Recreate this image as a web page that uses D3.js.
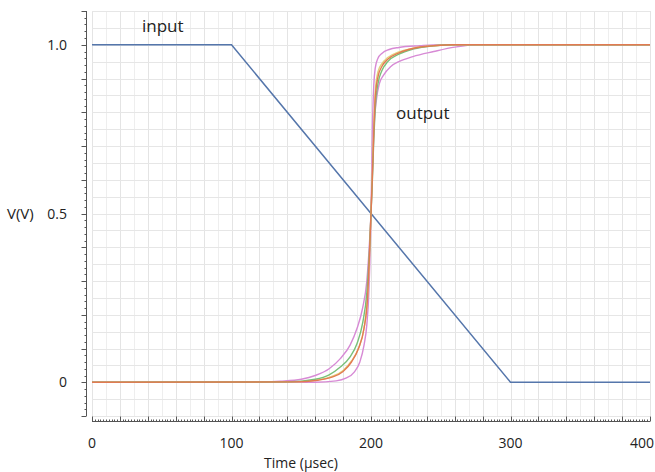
<!DOCTYPE html>
<html>
<head>
<meta charset="utf-8">
<script src="https://cdn.jsdelivr.net/npm/d3@7"></script>
<style>
  body { margin: 0; background: #fff; }
  text { font-family: "Open Sans", "DejaVu Sans", sans-serif; fill: #222; }
</style>
</head>
<body>
<svg id="chart" width="655" height="472"></svg>
<script>
// input ramp
var inT = [0, 100, 300, 400],
    inV = [1, 1, 0, 0];

// output curves (several runs)
var softT = [0, 115, 135, 150, 160, 170, 178, 185, 190, 194, 197, 199, 200, 201, 202, 204, 206, 209, 214, 220, 230, 245, 260, 275, 400],
    softV = [0, 0, 0.003, 0.009, 0.02, 0.04, 0.07, 0.11, 0.16, 0.22, 0.3, 0.42, 0.5, 0.62, 0.74, 0.84, 0.885, 0.91, 0.935, 0.95, 0.965, 0.98, 0.993, 1, 1];
var sharpT = [0, 160, 175, 182, 188, 192, 195, 197, 198.5, 200, 201, 202, 203, 205, 208, 213, 220, 235, 250, 400],
    sharpV = [0, 0, 0.004, 0.012, 0.03, 0.06, 0.11, 0.17, 0.27, 0.5, 0.75, 0.88, 0.93, 0.96, 0.975, 0.986, 0.992, 0.997, 1, 1];
var greenT = [0, 140, 160, 170, 178, 185, 190, 194, 197, 199, 200, 201, 202, 203, 205, 208, 212, 220, 230, 245, 260, 400],
    greenV = [0, 0.001, 0.009, 0.022, 0.045, 0.075, 0.115, 0.175, 0.265, 0.4, 0.5, 0.6, 0.72, 0.81, 0.885, 0.925, 0.95, 0.972, 0.987, 0.997, 1, 1];
var yellowT = [0, 145, 162, 172, 180, 186, 191, 195, 197.5, 199, 200, 201, 202, 203, 205, 208, 212, 220, 230, 245, 260, 400],
    yellowV = [0, 0.001, 0.007, 0.017, 0.035, 0.063, 0.1, 0.16, 0.25, 0.38, 0.5, 0.63, 0.76, 0.86, 0.92, 0.945, 0.962, 0.979, 0.99, 0.997, 1, 1];
var orangeT = [0, 145, 162, 172, 180, 186, 191, 195, 197.5, 199, 200, 201, 202, 203, 205, 208, 212, 220, 230, 245, 260, 400],
    orangeV = [0, 0.001, 0.006, 0.015, 0.032, 0.06, 0.1, 0.16, 0.25, 0.39, 0.5, 0.61, 0.74, 0.84, 0.905, 0.937, 0.957, 0.976, 0.989, 0.997, 1, 1];

var xTicks = [0, 100, 200, 300, 400],
    yTicks = [0, 0.5, 1.0],
    yLabels = ["0", "0.5", "1.0"];

var svg = d3.select("#chart");

var x = d3.scaleLinear().domain([0, 400]).range([92, 650]),
    y = d3.scaleLinear().domain([-0.1, 1.1]).range([416, 11]);

function pts(T, V) { return T.map(function(t, i) { return [t, V[i]]; }); }

// grid
var g = svg.append("g");
g.selectAll("line.v").data(d3.range(0, 401, 10)).enter().append("line")
  .attr("class", "v")
  .attr("x1", function(d) { return Math.round(x(d)) + 0.5; }).attr("x2", function(d) { return Math.round(x(d)) + 0.5; })
  .attr("y1", y(1.1)).attr("y2", y(-0.1))
  .style("stroke", function(d) { return d % 20 == 0 ? "#e4e4e4" : "#eeeeee"; }).style("stroke-width", 1);
g.selectAll("line.h").data(d3.range(-0.1, 1.1001, 0.05)).enter().append("line")
  .attr("class", "h")
  .attr("x1", x(0)).attr("x2", x(400))
  .attr("y1", function(d) { return Math.round(y(d)) + 0.5; }).attr("y2", function(d) { return Math.round(y(d)) + 0.5; })
  .style("stroke", "#e6e6e6").style("stroke-width", 1);

// y axis with ruler ticks
var yAxisX = 86.5;
svg.append("line").attr("x1", yAxisX).attr("x2", yAxisX).attr("y1", y(1.1)).attr("y2", y(-0.1))
  .style("stroke", "#555").style("stroke-width", 1);
svg.selectAll("line.ytick").data(d3.range(-5, 56)).enter().append("line")
  .attr("class", "ytick")
  .attr("x1", yAxisX).attr("x2", function(d) { return d % 5 == 0 ? yAxisX - 5 : yAxisX - 2; })
  .attr("y1", function(d) { return Math.round(y(d * 0.02)) + 0.5; })
  .attr("y2", function(d) { return Math.round(y(d * 0.02)) + 0.5; })
  .style("stroke", "#555").style("stroke-width", 1);

var yl = svg.append("g").attr("class", "ylabels");
yl.selectAll("g").data(yTicks).enter().append("g")
  .attr("transform", function(d) { return "translate(67," + (y(d) + 5) + ")"; })
  .append("text")
    .attr("text-anchor", "end").style("font-size", "14px").style("fill", "#222")
    .text(function(d, i) { return yLabels[i]; });
svg.append("text").attr("x", 7).attr("y", y(0.5) + 5).style("font-size", "15px").text("V(V)");

// x axis with ruler ticks
var xAxisY = 421.5;
svg.append("line").attr("x1", x(0)).attr("x2", x(400)).attr("y1", xAxisY).attr("y2", xAxisY)
  .style("stroke", "#555").style("stroke-width", 1);
svg.selectAll("line.xtick").data(d3.range(0, 201)).enter().append("line")
  .attr("class", "xtick")
  .attr("x1", function(d) { return Math.round(x(d * 2)) + 0.5; })
  .attr("x2", function(d) { return Math.round(x(d * 2)) + 0.5; })
  .attr("y1", xAxisY).attr("y2", function(d) { return d % 10 == 0 ? xAxisY - 5 : xAxisY - 2; })
  .style("stroke", "#555").style("stroke-width", 1);
xTicks.forEach(function(d) {
  svg.append("text").attr("class", "xlab")
    .attr("x", d == 400 ? 654 : x(d)).attr("y", 448)
    .attr("text-anchor", d == 400 ? "end" : "middle").style("font-size", "14px")
    .text(d);
});
svg.append("text").attr("x", 301).attr("y", 468).attr("text-anchor", "middle")
  .style("font-size", "14px").text("Time (\u00b5sec)");

// curves
var lin = d3.line().x(function(d) { return x(d[0]); }).y(function(d) { return y(d[1]); });
var smooth = d3.line().curve(d3.curveMonotoneX)
  .x(function(d) { return x(d[0]); }).y(function(d) { return y(d[1]); });

svg.append("path").attr("d", lin(pts(inT, inV)))
  .style("fill", "none").style("stroke", "#5576ab").style("stroke-width", 1.5);

var outs = [
  [softT, softV, "#d78ad5"],
  [sharpT, sharpV, "#d78ad5"],
  [yellowT, yellowV, "#e3d27a"],
  [greenT, greenV, "#78c078"],
  [orangeT, orangeV, "#e27a52"]
];
outs.forEach(function(o) {
  svg.append("path").attr("d", smooth(pts(o[0], o[1])))
    .style("fill", "none").style("stroke", o[2]).style("stroke-width", 1.4);
});

svg.append("text").attr("x", 142).attr("y", 32).style("font-size", "17px").text("input");
svg.append("text").attr("x", 396).attr("y", 119).style("font-size", "17px").text("output");
</script>
</body>
</html>
